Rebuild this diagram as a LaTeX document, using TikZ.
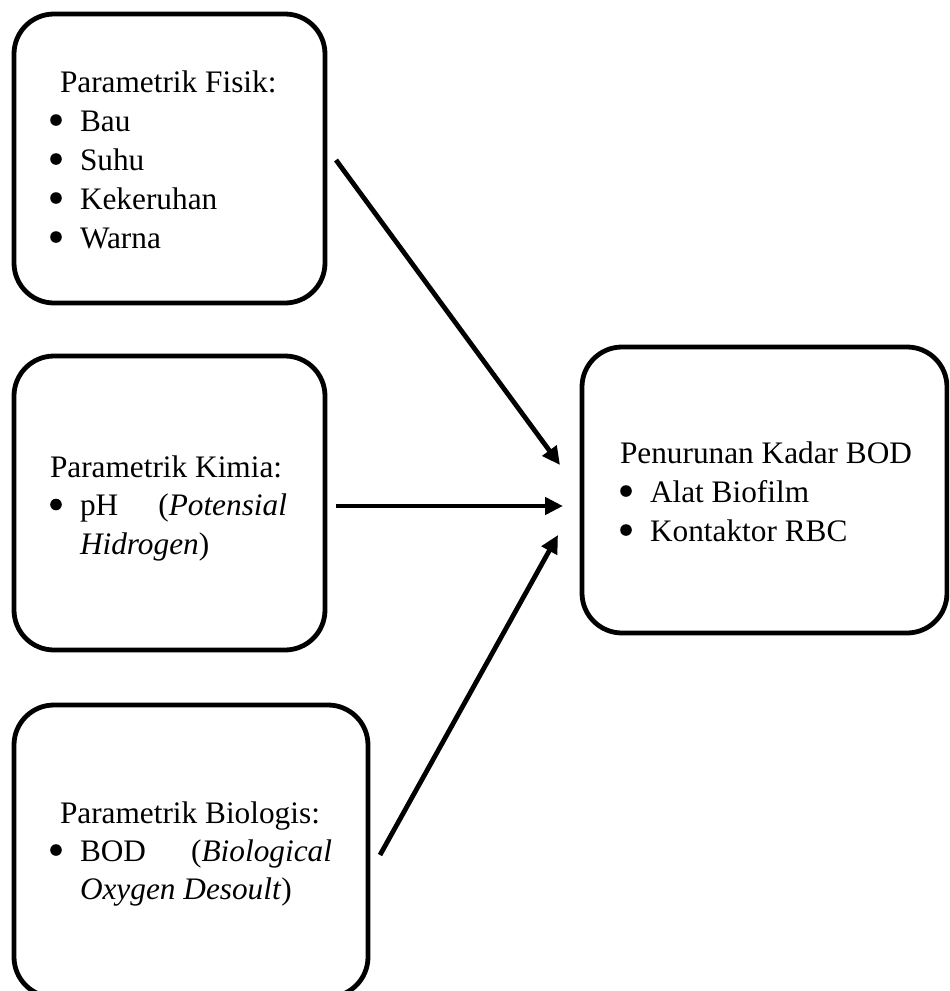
\documentclass[tikz,border=0pt]{standalone}
\usepackage{fontspec}
\setmainfont{Liberation Serif}
\usetikzlibrary{arrows.meta}

\tikzset{
  panel/.style={draw=black, line width=2.4pt, rounded corners=20pt, rectangle,
                inner sep=0pt, outer sep=0pt},
  txt/.style={anchor=base west, inner sep=0pt, outer sep=0pt,
              font=\fontsize{15.65pt}{19.5pt}\selectfont},
  dot/.style={fill=black},
  flow/.style={line width=2.4pt, -{Triangle[length=9pt,width=8.5pt]}}
}

\begin{document}
\begin{tikzpicture}[x=0.5pt, y=-0.5pt]
  \clip (0,0) rectangle (949,991);

  % boxes
  \node[panel, minimum width=155.5pt, minimum height=144.5pt] (fisik)    at (169.5,158.5) {};
  \node[panel, minimum width=155.5pt, minimum height=147pt]   (kimia)    at (169.5,503)   {};
  \node[panel, minimum width=177pt,   minimum height=146pt]   (biologis) at (191,851)     {};
  \node[panel, minimum width=182.5pt, minimum height=143pt]   (bod)      at (764.5,490)   {};

  % physical parameters
  \node[txt] (f0) at (60,92)  {Parametrik Fisik:};
  \node[txt] (f1) at (80,131) {Bau};
  \node[txt] (f2) at (80,170) {Suhu};
  \node[txt] (f3) at (80,209) {Kekeruhan};
  \node[txt] (f4) at (80,248) {Warna};
  \foreach \yy in {131,170,209,248} \fill[dot] (56,\yy-11) circle (2.9pt);

  % chemical parameters
  \node[txt] (k0) at (50,477)   {Parametrik Kimia:};
  \node[txt] (k1) at (80,515.5) {\makebox[103.5pt][l]{pH\hfill(\textit{Potensial}}};
  \node[txt] (k2) at (80,554)   {\textit{Hidrogen})};
  \fill[dot] (56,515.5-11) circle (2.9pt);

  % biological parameters
  \node[txt] (b0) at (60,823) {Parametrik Biologis:};
  \node[txt] (b1) at (80,861) {\makebox[126pt][l]{BOD\hfill(\textit{Biological}}};
  \node[txt] (b2) at (80,899) {\textit{Oxygen Desoult})};
  \fill[dot] (56,861-11) circle (2.9pt);

  % outcome
  \node[txt] (o0) at (620,463) {Penurunan Kadar BOD};
  \node[txt] (o1) at (650,502) {Alat Biofilm};
  \node[txt] (o2) at (650,541) {Kontaktor RBC};
  \foreach \yy in {502,541} \fill[dot] (626,\yy-11) circle (2.9pt);

  % arrow end points
  \coordinate (s1) at (336,160);
  \coordinate (t1) at (560,465);
  \coordinate (s2) at (336,506);
  \coordinate (t2) at (563,506);
  \coordinate (s3) at (380,855);
  \coordinate (t3) at (558,535);

  \draw[flow] (s1) -- (t1);
  \draw[flow] (s2) -- (t2);
  \draw[flow] (s3) -- (t3);
\end{tikzpicture}
\end{document}
